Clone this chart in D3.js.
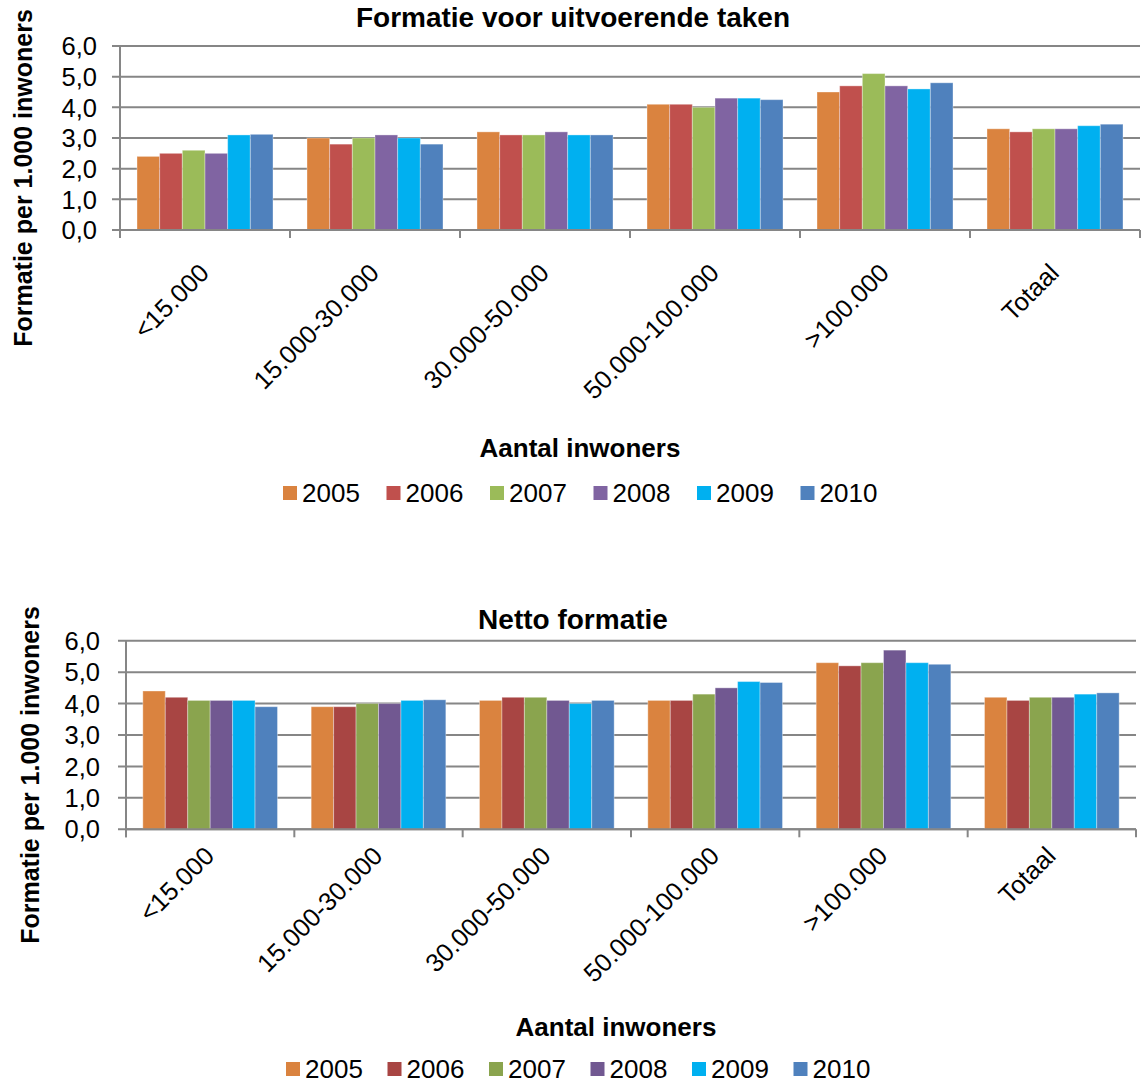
<!DOCTYPE html>
<html>
<head>
<meta charset="utf-8">
<script src="https://cdn.jsdelivr.net/npm/d3@7"></script>
<style>
  body { margin: 0; background: #fff; }
  svg { display: block; }
  text { font-family: "Liberation Sans", Arial, sans-serif; fill: #000; }
</style>
</head>
<body>
<svg id="chart" width="1146" height="1083"></svg>
<script>
// ---- Data ----
const categories = ["<15.000", "15.000-30.000", "30.000-50.000", "50.000-100.000", ">100.000", "Totaal"];
const years = ["2005", "2006", "2007", "2008", "2009", "2010"];
const yTicks = [0, 1, 2, 3, 4, 5, 6];

// Formatie voor uitvoerende taken (per year, per category)
const uitvoerend2005 = [2.4, 3.0, 3.2, 4.1, 4.5, 3.3];
const uitvoerend2006 = [2.5, 2.8, 3.1, 4.1, 4.7, 3.2];
const uitvoerend2007 = [2.6, 3.0, 3.1, 4.0, 5.1, 3.3];
const uitvoerend2008 = [2.5, 3.1, 3.2, 4.3, 4.7, 3.3];
const uitvoerend2009 = [3.1, 3.0, 3.1, 4.3, 4.6, 3.4];
const uitvoerend2010 = [3.12, 2.8, 3.1, 4.25, 4.8, 3.45];

// Netto formatie
const netto2005 = [4.4, 3.9, 4.1, 4.1, 5.3, 4.2];
const netto2006 = [4.2, 3.9, 4.2, 4.1, 5.2, 4.1];
const netto2007 = [4.1, 4.0, 4.2, 4.3, 5.3, 4.2];
const netto2008 = [4.1, 4.0, 4.1, 4.5, 5.7, 4.2];
const netto2009 = [4.1, 4.1, 4.0, 4.7, 5.3, 4.3];
const netto2010 = [3.9, 4.12, 4.1, 4.67, 5.25, 4.34];

const colorsTop = ["#DA833F", "#C0504D", "#9BBB59", "#8064A2", "#00B0F0", "#4F81BD"];
const colorsBottom = ["#DA833F", "#A84543", "#8AA44E", "#715891", "#00B0F0", "#4F81BD"];

const svg = d3.select("#chart");
const GRID = "#868686";

function drawChart(cfg) {
  const g = svg.append("g");
  const x0 = d3.scaleBand().domain(categories).range([cfg.left, cfg.right]).padding(0);
  const bw = x0.bandwidth();
  const x1 = d3.scaleBand().domain(years).range([bw * 0.1, bw * 0.9]).padding(0);
  const y = d3.scaleLinear().domain([0, 6]).range([cfg.bottom, cfg.top]);

  // gridlines + y ticks
  g.append("g").selectAll("line").data(yTicks).join("line")
    .attr("x1", cfg.left - 8).attr("x2", cfg.right)
    .attr("y1", d => y(d)).attr("y2", d => y(d))
    .attr("stroke", GRID).attr("stroke-width", 2);

  // y axis line
  g.append("line").attr("x1", cfg.left).attr("x2", cfg.left)
    .attr("y1", y(6)).attr("y2", cfg.bottom + 8)
    .attr("stroke", GRID).attr("stroke-width", 2);

  // category ticks
  const bounds = categories.map(c => x0(c)).concat([cfg.right]);
  g.append("g").selectAll("line").data(bounds).join("line")
    .attr("x1", d => d).attr("x2", d => d)
    .attr("y1", cfg.bottom).attr("y2", cfg.bottom + 8)
    .attr("stroke", GRID).attr("stroke-width", 2);

  // y tick labels
  g.append("g").selectAll("text").data(yTicks).join("text")
    .attr("x", cfg.tickLabelX).attr("y", d => y(d))
    .attr("dy", "0.36em")
    .attr("text-anchor", "end")
    .style("font-size", "25.5px")
    .text(d => d.toFixed(1).replace(".", ","));

  // bars
  const rows = categories.map((c, i) => ({ cat: c, vals: cfg.series.map((s, j) => ({ year: years[j], v: s[i], color: cfg.colors[j] })) }));
  const grp = g.append("g").selectAll("g").data(rows).join("g")
    .attr("transform", d => `translate(${x0(d.cat)},0)`);
  grp.selectAll("rect").data(d => d.vals).join("rect")
    .attr("x", d => x1(d.year))
    .attr("width", x1.bandwidth())
    .attr("y", d => y(d.v))
    .attr("height", d => cfg.bottom - y(d.v))
    .attr("fill", d => d.color)
    .attr("stroke", "rgba(255,255,255,0.35)")
    .attr("stroke-width", 1);

  // redraw baseline on top
  g.append("line").attr("x1", cfg.left).attr("x2", cfg.right)
    .attr("y1", cfg.bottom).attr("y2", cfg.bottom)
    .attr("stroke", GRID).attr("stroke-width", 2);

  // category labels
  g.append("g").selectAll("text").data(categories).join("text")
    .attr("transform", d => `translate(${x0(d) + bw / 2 - 1},${cfg.catLabelY}) rotate(-45)`)
    .attr("text-anchor", "end")
    .attr("dy", "0.36em")
    .style("font-size", "25.5px")
    .text(d => d);

  // title
  g.append("text").attr("x", cfg.titleX).attr("y", cfg.titleY)
    .attr("text-anchor", "middle").style("font-size", "28px").style("font-weight", "bold")
    .text(cfg.title);

  // y title
  g.append("text")
    .attr("transform", `translate(${cfg.yTitleX},${cfg.yTitleY}) rotate(-90)`)
    .attr("text-anchor", "middle").attr("dy", "0.36em")
    .style("font-size", "25px").style("font-weight", "bold")
    .text("Formatie per 1.000 inwoners");

  // x title
  g.append("text").attr("x", cfg.xTitleX).attr("y", cfg.xTitleY)
    .attr("text-anchor", "middle").attr("dy", "0.36em")
    .style("font-size", "26px").style("font-weight", "bold")
    .text("Aantal inwoners");

  // legend
  const lg = g.append("g").selectAll("g").data(years).join("g")
    .attr("transform", (d, i) => `translate(${cfg.legendX + i * cfg.legendStep},${cfg.legendY})`);
  lg.append("rect").attr("x", 0).attr("y", -7).attr("width", 14).attr("height", 14)
    .attr("fill", (d, i) => cfg.colors[i]);
  lg.append("text").attr("x", 19).attr("y", 0).attr("dy", "0.36em")
    .style("font-size", "26px").text(d => d);
}

drawChart({
  title: "Formatie voor uitvoerende taken",
  series: [uitvoerend2005, uitvoerend2006, uitvoerend2007, uitvoerend2008, uitvoerend2009, uitvoerend2010],
  colors: colorsTop,
  left: 120, right: 1140, top: 46, bottom: 230,
  tickLabelX: 97, catLabelY: 268,
  titleX: 573, titleY: 27,
  yTitleX: 23, yTitleY: 178,
  xTitleX: 580, xTitleY: 448,
  legendX: 283, legendStep: 103.5, legendY: 493
});

drawChart({
  title: "Netto formatie",
  series: [netto2005, netto2006, netto2007, netto2008, netto2009, netto2010],
  colors: colorsBottom,
  left: 126, right: 1136, top: 640.7, bottom: 829.3,
  tickLabelX: 100, catLabelY: 851,
  titleX: 573, titleY: 629,
  yTitleX: 30, yTitleY: 775,
  xTitleX: 616, xTitleY: 1027,
  legendX: 286, legendStep: 101.5, legendY: 1069
});
</script>
</body>
</html>
